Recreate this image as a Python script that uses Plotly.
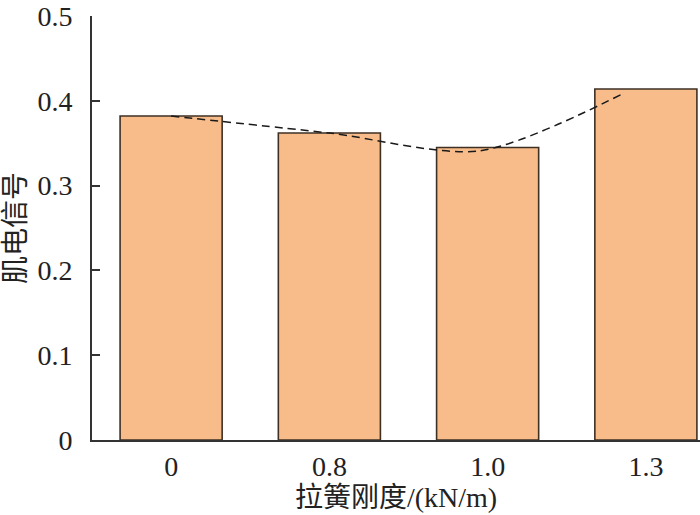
import plotly.graph_objects as go

categories = ["0", "0.8", "1.0", "1.3"]
bar_values = [0.382, 0.362, 0.345, 0.414]
# dashed trend curve (positions in category index units, values)
trend_x = [0, 1, 1.95, 2.85]
trend_y = [0.382, 0.362, 0.341, 0.408]
y_ticks = [0, 0.1, 0.2, 0.3, 0.4, 0.5]
y_ticklabels = ["0", "0.1", "0.2", "0.3", "0.4", "0.5"]

FONT = "Liberation Serif, 'Noto Sans CJK SC', serif"

fig = go.Figure()
fig.add_trace(go.Bar(
    x=list(range(len(categories))), y=bar_values, width=0.645,
    marker=dict(color="#F7BC8A", line=dict(color="#3f3024", width=1.6)),
    showlegend=False,
))
fig.add_trace(go.Scatter(
    x=trend_x, y=trend_y, mode="lines",
    line=dict(color="#1a1a1a", width=1.5, dash="8px,5px", shape="spline", smoothing=0.8),
    showlegend=False,
))

fig.update_layout(
    width=700, height=515,
    margin=dict(l=92, r=0, t=16, b=75),
    plot_bgcolor="white", paper_bgcolor="white",
    font=dict(family=FONT, size=28, color="#222222"),
    xaxis=dict(
        range=[-0.5, 3.342], tickmode="array",
        tickvals=list(range(len(categories))), ticktext=categories,
        showline=True, linecolor="#333333", linewidth=2,
        showgrid=False, zeroline=False, ticks="", automargin=False,
        ticklabeloverflow="allow",
        title=dict(text="拉簧刚度/(kN/m)", standoff=0,
                   font=dict(family=FONT, size=28)),
    ),
    yaxis=dict(
        range=[0, 0.5], tickmode="array", tickvals=y_ticks, ticktext=y_ticklabels,
        showline=True, linecolor="#333333", linewidth=2,
        showgrid=False, zeroline=False, automargin=False,
        ticklabeloverflow="allow",
        ticks="inside", ticklen=8, tickwidth=2, tickcolor="#333333",
        ticklabelstandoff=12,
        title=dict(text="肌电信号", standoff=10,
                   font=dict(family=FONT, size=28)),
    ),
)

fig.write_html("out.html", config={"displayModeBar": False},
               post_script="document.body.style.margin='0px';")
